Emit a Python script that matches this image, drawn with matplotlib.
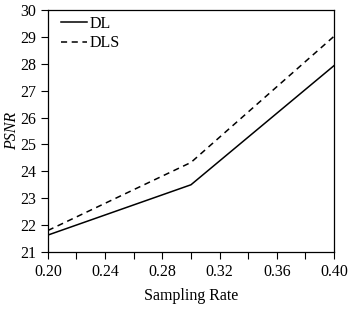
import matplotlib
matplotlib.use("Agg")
import matplotlib.pyplot as plt
from matplotlib.ticker import MultipleLocator, FormatStrFormatter

sampling_rate = [0.20, 0.30, 0.40]
psnr_dl = [21.63, 23.5, 27.93]
psnr_dls = [21.8, 24.33, 29.02]

plt.rcParams['font.family'] = ['Liberation Serif', 'DejaVu Serif']

fig = plt.figure(figsize=(3.52, 3.10), dpi=100)
ax = fig.add_axes([0.136, 0.187, 0.813, 0.781])
ax.plot(sampling_rate, psnr_dl, color='black', lw=1.1, ls='-', label='DL')
ax.plot(sampling_rate, psnr_dls, color='black', lw=1.1, ls=(0, (4, 3)), label='DLS')

ax.set_xlim(0.20, 0.40)
ax.set_ylim(21, 30)
ax.set_xticks([0.20, 0.24, 0.28, 0.32, 0.36, 0.40])
ax.xaxis.set_minor_locator(MultipleLocator(0.02))
ax.xaxis.set_major_formatter(FormatStrFormatter('%.2f'))
ax.yaxis.set_major_locator(MultipleLocator(1))
ax.tick_params(axis='both', which='both', direction='out', length=5, width=0.8, labelsize=11.5)
for s in ax.spines.values():
    s.set_linewidth(0.9)

ax.set_xlabel('Sampling Rate', fontsize=11.5, labelpad=6)
ax.set_ylabel('PSNR', fontsize=11.5, style='italic', labelpad=0)

ax.legend(loc='upper left', bbox_to_anchor=(0.03, 0.995), frameon=False,
          fontsize=11.5, handlelength=1.6, borderaxespad=0.0,
          labelspacing=0.2, handletextpad=0.2, borderpad=0.3)

fig.savefig('out.png', dpi=100)
